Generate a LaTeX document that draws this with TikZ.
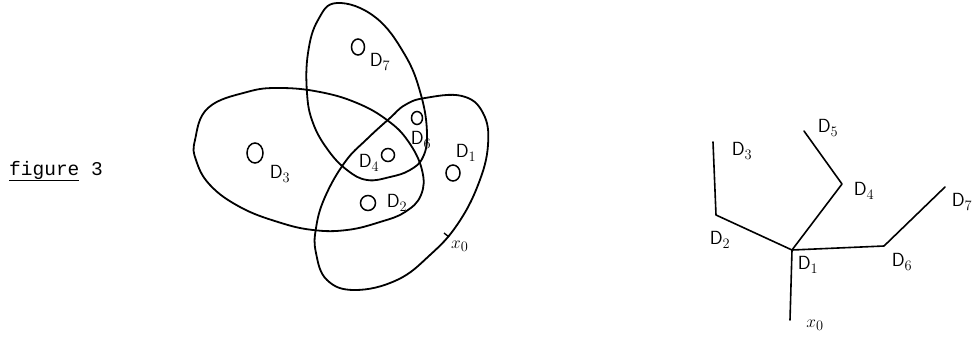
\documentclass[tikz,border=0pt]{standalone}
\usepackage{fontspec}
\newfontfamily\typew{Liberation Mono}
\begin{document}
\begin{tikzpicture}[x=1pt,y=-1pt,
  curve/.style={line width=1.8pt, line join=round},
  blob/.style={line width=1.5pt},
  lab/.style={font=\fontsize{19}{21}\selectfont, inner sep=0pt},
  edge/.style={line width=1.6pt, line cap=round, line join=round}]
\useasboundingbox (0,0) rectangle (980,338);

% caption
\node[anchor=base west, inner sep=0pt, font=\typew\fontsize{19.5}{21}\selectfont] (cap) at (9,175) {\underline{figure} 3};

% D3 oval (left)
\draw[curve] plot[smooth cycle, tension=0.7] coordinates {
 (195,140) (208,108) (247,92) (280,88) (320,92) (357,103) (387,120) (408,141)
 (422,170) (421,195) (405,212) (380,222) (347,230) (313,230) (278,222) (240,207) (210,185) (196,160)};
% D7 oval (top)
\draw[curve] plot[smooth cycle, tension=0.7] coordinates {
 (337,3) (375,17) (405,55) (421,95) (427,133) (423,157) (410,170) (390,177) (367,180)
 (347,170) (328,150) (313,123) (307,93) (308,53) (318,20)};
% D1 oval (right)
\draw[curve] plot[smooth cycle, tension=0.7] coordinates {
 (425,98) (462,96) (483,113) (488,145) (478,185) (457,225) (430,255) (397,280) (355,290)
 (327,280) (316,253) (316,228) (325,197) (345,162) (367,139) (390,118) (405,105)};
% tick at x0
\coordinate (tk) at (444,233);
\draw[line width=1.4pt] (tk) -- ++(5,4);
\node[lab, anchor=west] (x0a) at (451,246) {$x_0$};

% small regions
\draw[blob] (358,47) ellipse (6.5pt and 8pt);
\draw[blob] (255,153) ellipse (8pt and 10pt);
\draw[blob] (417,118) ellipse (5.5pt and 6.5pt);
\draw[blob] (388,155) ellipse (6.5pt and 6.5pt);
\draw[blob] (368,203) ellipse (7.5pt and 7.5pt);
\draw[blob] (453,173) ellipse (7pt and 8pt);

\node[lab] (l7) at (380,62) {$\mathsf{D}_7$};
\node[lab] (l3) at (280,174) {$\mathsf{D}_3$};
\node[lab] (l6) at (421,140) {$\mathsf{D}_6$};
\node[lab] (l4) at (369,163) {$\mathsf{D}_4$};
\node[lab] (l2) at (397,203) {$\mathsf{D}_2$};
\node[lab] (l1) at (466,153) {$\mathsf{D}_1$};

% tree
\coordinate (t1) at (792,250);
\coordinate (tx) at (790,320);
\coordinate (t2) at (716,215);
\coordinate (t3) at (713,142);
\coordinate (t4) at (842,184);
\coordinate (t5) at (804,131);
\coordinate (t6) at (884,246);
\coordinate (t7) at (945,187);
\draw[edge] (tx) -- (t1);
\draw[edge] (t3) -- (t2) -- (t1);
\draw[edge] (t5) -- (t4) -- (t1);
\draw[edge] (t7) -- (t6) -- (t1);

\node[lab] (n1) at (808,265) {$\mathsf{D}_1$};
\node[lab] (n2) at (720,240) {$\mathsf{D}_2$};
\node[lab] (n3) at (742,151) {$\mathsf{D}_3$};
\node[lab] (n4) at (864,191) {$\mathsf{D}_4$};
\node[lab] (n5) at (828,128) {$\mathsf{D}_5$};
\node[lab] (n6) at (902,262) {$\mathsf{D}_6$};
\node[lab] (n7) at (962,202) {$\mathsf{D}_7$};
\node[lab] (nx) at (815,325) {$x_0$};
\end{tikzpicture}
\end{document}
